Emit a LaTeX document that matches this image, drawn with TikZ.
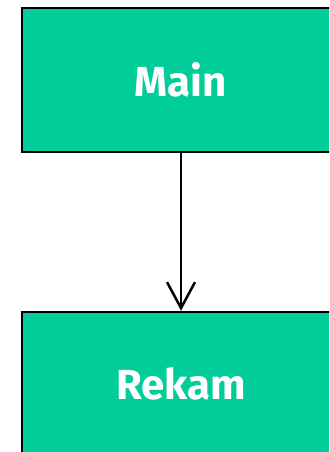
\documentclass[tikz,border=0pt]{standalone}
\usepackage{fontspec}
\setmainfont{Fira Sans}
\usetikzlibrary{arrows.meta}
\definecolor{boxgreen}{RGB}{0,205,153}

\begin{document}
\begin{tikzpicture}[x=1pt,y=1pt,
  block/.style={draw=black,line width=2.5pt,fill=boxgreen,minimum width=318pt,
    minimum height=144pt,inner sep=0pt,text=white,font=\bfseries\fontsize{42}{46}\selectfont}]
\useasboundingbox (0,0) rectangle (329,-452);
\clip (0,0) rectangle (329,-452);
\node[block] (main) at (181,-80) {Main}; %
\node[block] (rekam) at (181,-384) {Rekam}; %
\draw[line width=2.5pt,-{Straight Barb[length=26pt,width=28pt,line width=2.5pt]}] (main) -- (rekam);
\end{tikzpicture}
\end{document}
